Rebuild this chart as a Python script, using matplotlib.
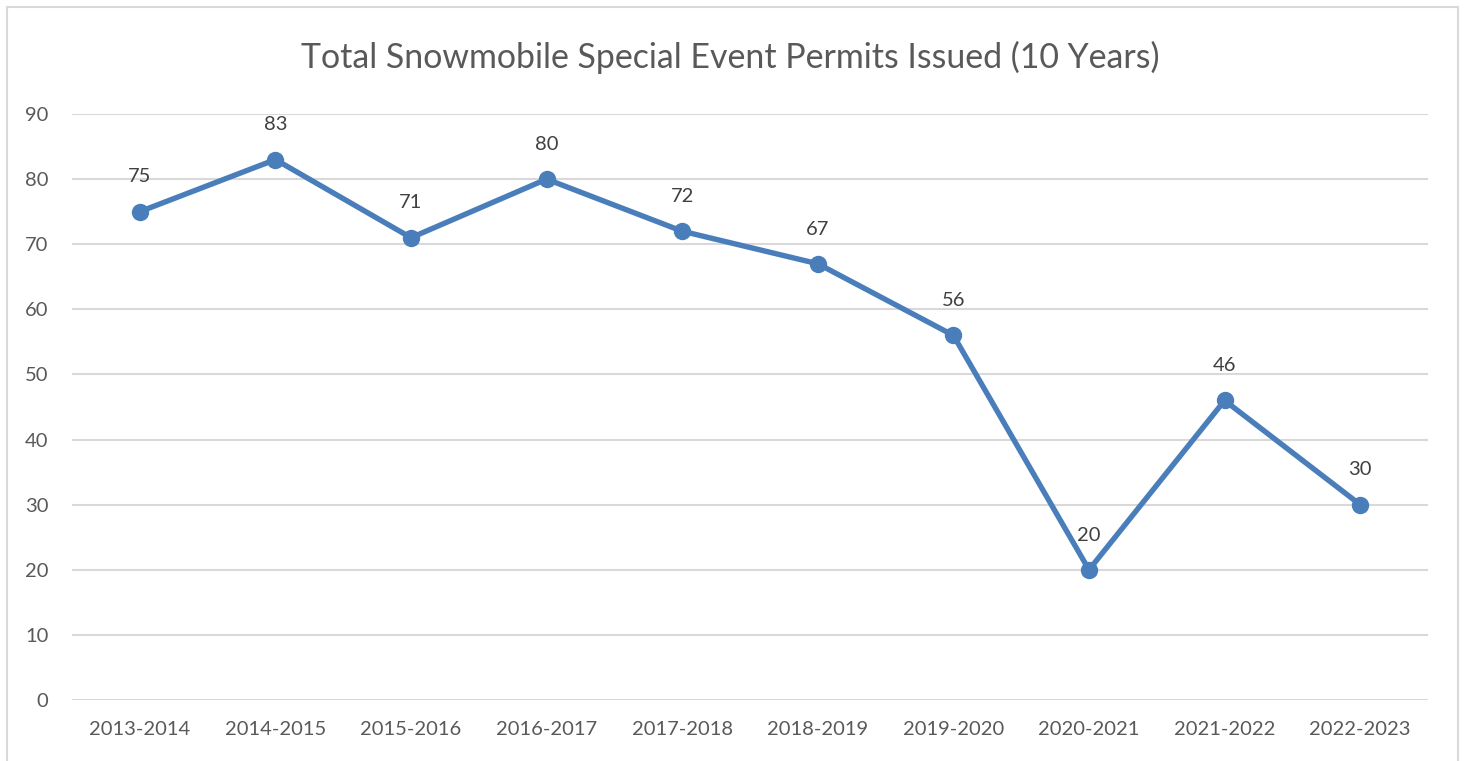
import matplotlib.pyplot as plt
from matplotlib.patches import Rectangle

seasons = ['2013-2014', '2014-2015', '2015-2016', '2016-2017', '2017-2018',
           '2018-2019', '2019-2020', '2020-2021', '2021-2022', '2022-2023']
permits = [75, 83, 71, 80, 72, 67, 56, 20, 46, 30]
y_ticks = [0, 10, 20, 30, 40, 50, 60, 70, 80, 90]

plt.rcParams.update({'font.family': ['Lato', 'DejaVu Sans']})
txt_color = '#595959'
line_color = '#4a7ebb'

W, H = 1465, 761
fig = plt.figure(figsize=(W / 100, H / 100), dpi=100)
fig.patch.set_facecolor('white')

# outer chart border
fig.add_artist(Rectangle((7 / W, -0.05), (1458 - 7) / W, 1 - 7 / H + 0.05,
                         transform=fig.transFigure, fill=False,
                         edgecolor='#d9d9d9', linewidth=1.5))

ax = fig.add_axes([72 / W, 1 - 700 / H, (1428 - 72) / W, (700 - 114) / H])
x = list(range(len(seasons)))
ax.plot(x, permits, color=line_color, linewidth=3.9, marker='o',
        markersize=11.5, solid_capstyle='round', zorder=3, clip_on=False)
for xi, v in zip(x, permits):
    ax.annotate(str(v), (xi, v), xytext=(0, 25), textcoords='offset points',
                ha='center', va='center', fontsize=14.5, color='#404040')

ax.set_xlim(-0.5, len(seasons) - 0.5)
ax.set_ylim(0, 90)
ax.set_yticks(y_ticks)
ax.set_xticks(x)
ax.set_xticklabels(seasons)
ax.tick_params(axis='both', length=0, labelsize=14.5, labelcolor=txt_color)
ax.tick_params(axis='y', pad=17)
ax.tick_params(axis='x', pad=15)
ax.grid(axis='y', color='#d9d9d9', linewidth=1.5)
ax.set_axisbelow(True)
for s in ax.spines.values():
    s.set_visible(False)

fig.text(730 / W, 1 - 57 / H, 'Total Snowmobile Special Event Permits Issued (10 Years)',
         ha='center', va='center', fontsize=24.4, color=txt_color)

fig.savefig('out.png', dpi=100)
